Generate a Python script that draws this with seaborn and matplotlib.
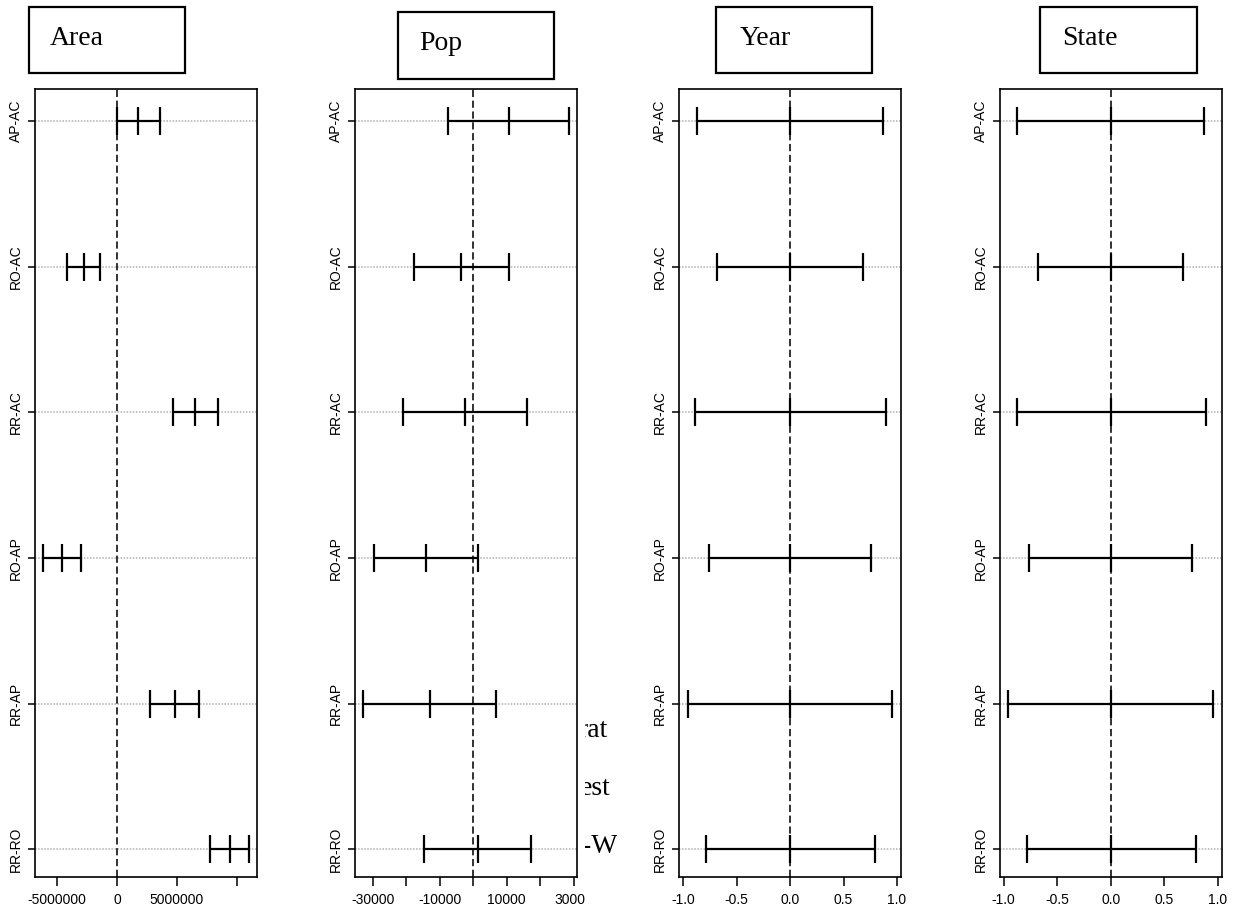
import numpy as np
import pandas as pd
import matplotlib
matplotlib.use("Agg")
import matplotlib.pyplot as plt
import matplotlib.patches as patches
from matplotlib.transforms import Bbox
import seaborn as sns

sns.set_style("ticks")
plt.rcParams['font.family'] = ['Liberation Sans', 'DejaVu Sans']
plt.rcParams['text.color'] = 'black'
plt.rcParams['xtick.color'] = 'black'
plt.rcParams['ytick.color'] = 'black'
plt.rcParams['axes.edgecolor'] = 'black'

# comparisons (top to bottom)
comparisons = ["AP-AC", "RO-AC", "RR-AC", "RO-AP", "RR-AP", "RR-RO"]

# Area
area_lwr = [-0.03e6, -4.19e6, 4.64e6, -6.14e6, 2.75e6, 7.75e6]
area_diff = [1.78e6, -2.75e6, 6.53e6, -4.56e6, 4.81e6, 9.42e6]
area_upr = [3.58e6, -1.42e6, 8.42e6, -2.97e6, 6.86e6, 10.97e6]

# Pop
pop_lwr = [-7600, -17700, -20900, -29700, -32800, -14700]
pop_diff = [10570, -3580, -2480, -14100, -12900, 1300]
pop_upr = [28470, 10570, 16100, 1500, 6800, 17200]

# Year
year_lwr = [-0.87, -0.68, -0.89, -0.76, -0.96, -0.785]
year_diff = [0.0, 0.0, 0.0, 0.0, 0.0, 0.0]
year_upr = [0.87, 0.68, 0.90, 0.76, 0.95, 0.79]

# State
state_lwr = [-0.873, -0.68, -0.88, -0.76, -0.96, -0.78]
state_diff = [0.0, 0.0, 0.0, 0.0, 0.0, 0.0]
state_upr = [0.87, 0.67, 0.89, 0.76, 0.95, 0.79]

titles = ["Area", "Pop", "Year", "State"]

W, H = 1239, 922
fig = plt.figure(figsize=(W / 100, H / 100), dpi=100)


def box(x0, y0, x1, y1):
    return [x0 / W, 1 - y1 / H, (x1 - x0) / W, (y1 - y0) / H]


panels = [
    dict(lwr=area_lwr, diff=area_diff, upr=area_upr, left=35,
         xlim=(-6.83e6, 11.67e6), ticks=[-5e6, 0, 5e6, 1e7],
         labels=["-5000000", "0", "5000000", ""]),
    dict(lwr=pop_lwr, diff=pop_diff, upr=pop_upr, left=355,
         xlim=(-35300, 30950), ticks=[-30000, -20000, -10000, 0, 10000, 20000, 30000],
         labels=["-30000", "", "-10000", "", "10000", "", "30000"]),
    dict(lwr=year_lwr, diff=year_diff, upr=year_upr, left=679,
         xlim=(-1.04, 1.037), ticks=[-1, -0.5, 0, 0.5, 1],
         labels=["-1.0", "-0.5", "0.0", "0.5", "1.0"]),
    dict(lwr=state_lwr, diff=state_diff, upr=state_upr, left=1000,
         xlim=(-1.035, 1.037), ticks=[-1, -0.5, 0, 0.5, 1],
         labels=["-1.0", "-0.5", "0.0", "0.5", "1.0"]),
]

axes = []
for p in panels:
    ax = fig.add_axes(box(p["left"], 89, p["left"] + 222, 877))
    ypos = np.arange(len(comparisons))
    df = pd.DataFrame({
        "comp": comparisons, "y": ypos,
        "lwr": p["lwr"], "diff": p["diff"], "upr": p["upr"],
    })
    # gray dotted guide lines
    for y in ypos:
        ax.axhline(y, color="#b0b0b0", lw=1.1, ls=(0, (1, 1)), zorder=1)
    ax.axvline(0, color="#222222", lw=1.3, ls=(0, (4, 2)), zorder=2)
    ax.hlines(df["y"], df["lwr"], df["upr"], color="black", lw=1.6, zorder=3)
    long = df.melt(id_vars=["comp", "y"], value_vars=["lwr", "diff", "upr"])
    sns.scatterplot(data=long, x="value", y="y", marker="|", s=435,
                    color="black", linewidth=1.6, ax=ax, zorder=4, legend=False)
    ax.set_xlim(*p["xlim"])
    ax.set_ylim(len(comparisons) - 1 + 0.19, -0.22)
    ax.set_xticks(p["ticks"])
    ax.set_xticklabels(p["labels"], fontsize=10, color="black")
    ax.set_yticks(ypos)
    ax.set_yticklabels(comparisons, rotation=90, va="center", fontsize=10, color="black")
    ax.tick_params(axis="x", length=6.5, width=1.1, pad=5, color="black")
    ax.tick_params(axis="y", length=5, width=1.1, pad=4, color="black")
    ax.set_xlabel("")
    ax.set_ylabel("")
    for s in ax.spines.values():
        s.set_linewidth(1.2)
        s.set_color("black")
    axes.append(ax)

# pop panel right label clipped like the reference
clip = Bbox.from_extents(0, 0, 585, H)
for lab in axes[1].get_xticklabels():
    lab.set_clip_box(clip)
    lab.set_clip_on(True)

# title boxes
title_boxes = [(29, 7, 185, 73), (398, 12, 554, 79), (716, 7, 872, 73), (1040, 7, 1197, 73)]
title_pos = [(50, 45), (419, 50), (740, 45), (1062, 45)]
for t, b, tp in zip(titles, title_boxes, title_pos):
    rect = patches.Rectangle((b[0] / W, 1 - b[3] / H), (b[2] - b[0]) / W, (b[3] - b[1]) / H,
                             transform=fig.transFigure, fill=False, lw=1.6, ec="black")
    fig.add_artist(rect)
    fig.text(tp[0] / W, 1 - tp[1] / H, t, family="Liberation Serif", fontsize=20,
             ha="left", va="baseline", color="black")

# stray text fragments between panels
frag_clip = Bbox.from_extents(585, 0, 617, H)
for s, x, y in [("rat", 578, 737), ("est", 580, 795), ("-W", 582, 853)]:
    tx = fig.text(x / W, 1 - y / H, s, family="Liberation Serif", fontsize=20,
                  ha="left", va="baseline", color="black")
    tx.set_clip_box(frag_clip)
    tx.set_clip_on(True)

fig.savefig("out.png", dpi=100)
